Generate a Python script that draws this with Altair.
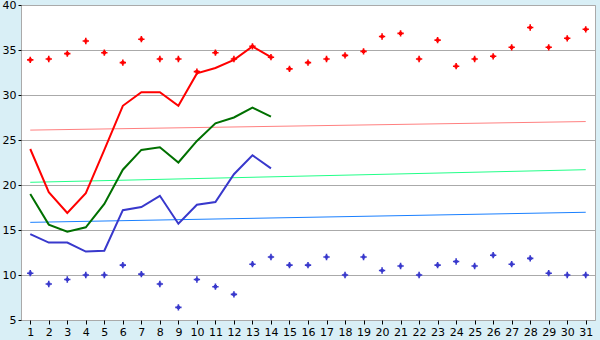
import altair as alt
import pandas as pd

days = list(range(1, 32))
hi_obs = [33.9, 34.0, 34.6, 36.0, 34.7, 33.6, 36.2, 34.0, 34.0, 32.6, 34.7, 34.0, 35.4, 34.2, 32.9,
          33.6, 34.0, 34.4, 34.85, 36.5, 36.85, 34.0, 36.1, 33.2, 34.0, 34.3, 35.3, 37.5, 35.3, 36.3, 37.3]
lo_obs = [10.2, 9.0, 9.5, 10.0, 10.0, 11.1, 10.1, 9.0, 6.4, 9.5, 8.7, 7.85, 11.2, 12.0, 11.1,
          11.1, 12.0, 10.0, 12.0, 10.5, 11.0, 10.0, 11.1, 11.5, 11.0, 12.2, 11.2, 11.85, 10.2, 10.0, 10.0]

line_days = days[:14]
t_max = [24.0, 19.2, 16.9, 19.1, 23.9, 28.8, 30.3, 30.3, 28.8, 32.4, 33.0, 33.9, 35.4, 34.2]
t_avg = [19.0, 15.6, 14.8, 15.3, 17.9, 21.7, 23.9, 24.2, 22.5, 24.9, 26.85, 27.5, 28.6, 27.6]
t_min = [14.55, 13.6, 13.6, 12.6, 12.7, 17.2, 17.55, 18.8, 15.7, 17.8, 18.1, 21.2, 23.3, 21.85]

trend_days = [1, 31]
n_max = [26.1, 27.05]
n_avg = [20.3, 21.7]
n_min = [15.85, 16.97]

df_obs = pd.DataFrame({"day": days, "hi": hi_obs, "lo": lo_obs})
df_line = pd.DataFrame({"day": line_days, "tmax": t_max, "tavg": t_avg, "tmin": t_min})
df_trend = pd.DataFrame({"day": trend_days, "nmax": n_max, "navg": n_avg, "nmin": n_min})

FONT = "DejaVu Sans"
MARKER = ("M-0.25,-1L0.25,-1L0.25,-0.5L0.5,-0.5L0.5,-0.25L1,-0.25L1,0.25L0.5,0.25"
          "L0.5,0.5L0.25,0.5L0.25,1L-0.25,1L-0.25,0.5L-0.5,0.5L-0.5,0.25L-1,0.25"
          "L-1,-0.25L-0.5,-0.25L-0.5,-0.5L-0.25,-0.5Z")

x_enc = alt.X(
    "day:O",
    title=None,
    scale=alt.Scale(type="point", domain=days, padding=0.5),
    axis=alt.Axis(labelAngle=0, labelFontSize=11, labelFont=FONT, labelColor="black",
                  tickColor="black", tickSize=4, labelPadding=2, domain=False, grid=False),
)


def y_enc(field):
    return alt.Y(
        f"{field}:Q",
        title=None,
        scale=alt.Scale(domain=[5, 40], nice=False, zero=False),
        axis=alt.Axis(values=[5, 10, 15, 20, 25, 30, 35, 40], labelFontSize=11, labelFont=FONT,
                      labelColor="black", tickColor="black", tickSize=3, labelPadding=2,
                      grid=True, gridColor="#aaaaaa", domain=False),
    )


def trend(field, color):
    return alt.Chart(df_trend).mark_line(color=color, strokeWidth=1).encode(x=x_enc, y=y_enc(field))


def line(field, color):
    return alt.Chart(df_line).mark_line(color=color, strokeWidth=2).encode(x=x_enc, y=y_enc(field))


def pts(field, color):
    return alt.Chart(df_obs).mark_point(shape=MARKER, filled=True, size=40, color=color, opacity=1).encode(
        x=x_enc, y=y_enc(field))


chart = alt.layer(
    trend("nmax", "#ff8080"),
    trend("navg", "#22ff88"),
    trend("nmin", "#1a80ff"),
    line("tmax", "#ff0000"),
    line("tavg", "#007000"),
    line("tmin", "#3838cc"),
    pts("hi", "#ff0000"),
    pts("lo", "#3838cc"),
).properties(
    width=574, height=315,
    background="#d9eff6",
    padding={"left": 21, "top": 5, "right": 5, "bottom": 20},
    autosize=alt.AutoSizeParams(type="none"),
).configure_view(stroke="#aaaaaa", fill="white")

chart.save("out.html", embed_options={"renderer": "svg", "actions": False})
